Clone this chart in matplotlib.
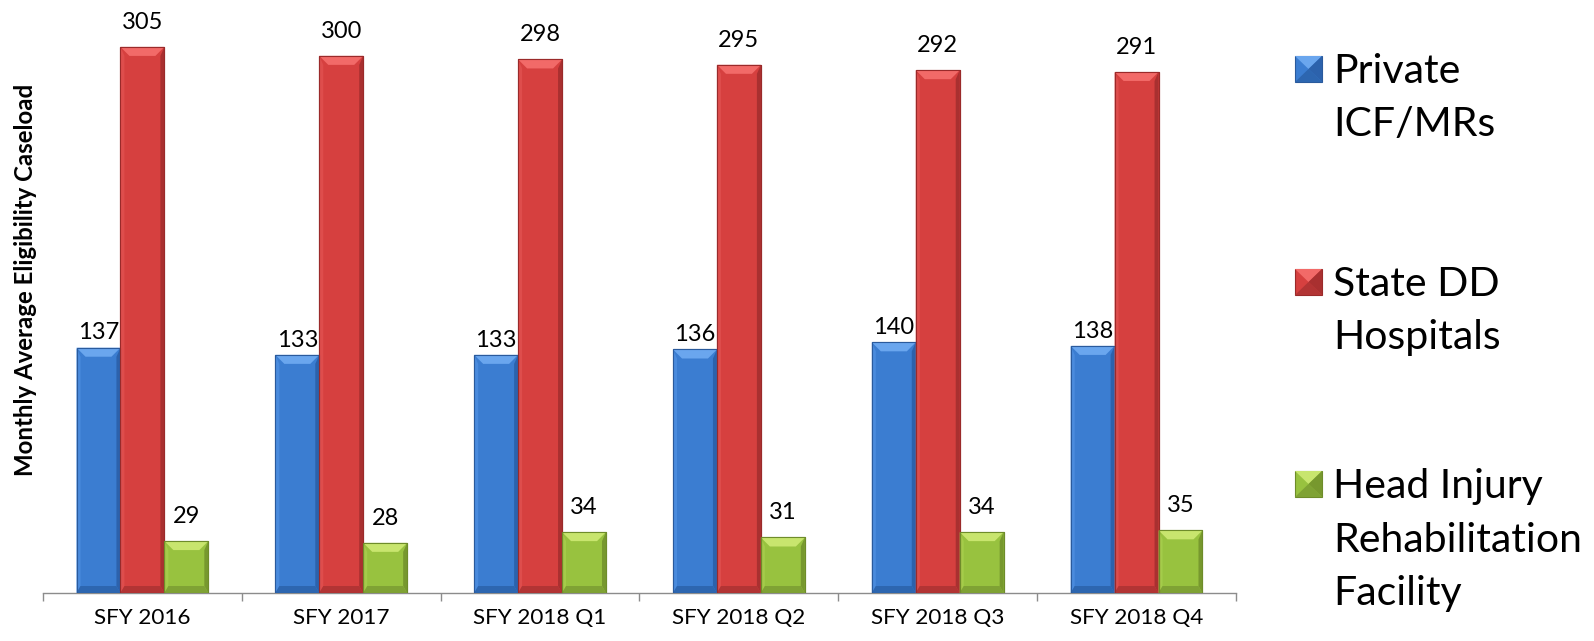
import matplotlib
matplotlib.use("Agg")
import matplotlib.pyplot as plt
from matplotlib.patches import Polygon, Rectangle
import numpy as np

categories = ["SFY 2016", "SFY 2017", "SFY 2018 Q1", "SFY 2018 Q2", "SFY 2018 Q3", "SFY 2018 Q4"]
private_icf = [137, 133, 133, 136, 140, 138]
state_dd = [305, 300, 298, 295, 292, 291]
head_injury = [29, 28, 34, 31, 34, 35]
series_names = ["Private\nICF/MRs", "State DD\nHospitals", "Head Injury\nRehabilitation\nFacility"]
y_label = "Monthly Average Eligibility Caseload"

# colour schemes: (body, top bevel, left bevel, right bevel, bottom bevel, edge)
styles = [
    ("#3B7DD1", "#6AA6EE", "#4A8BDD", "#2C62AC", "#2D66B0", "#2A5A9C"),
    ("#D6403F", "#F26A68", "#DE4D4C", "#A93030", "#B23434", "#9A2A2A"),
    ("#98C23F", "#C8E56E", "#A4CC4A", "#77982E", "#7FA234", "#6E8C2A"),
]
label_offsets = [6, 13, 13]  # points above the bar top (baseline)

plt.rcParams['font.family'] = ['Lato', 'DejaVu Sans']

W, H = 1594, 641
fig = plt.figure(figsize=(W / 100, H / 100), dpi=100)
ax_l, ax_r, ax_b = 43, 1236, 48
ax = fig.add_axes([ax_l / W, ax_b / H, (ax_r - ax_l) / W, (H - ax_b) / H])

n = len(categories)
x = np.arange(n)
bw = 0.221
ax.set_xlim(-0.5, n - 0.5)
ax.set_ylim(0, 331.2)

px_x = (ax_r - ax_l) / n          # pixels per x data unit
px_y = (H - ax_b) / 331.2         # pixels per y data unit

all_series = [private_icf, state_dd, head_injury]
offsets = [-bw, 0, bw]
for vals, off, st, loff in zip(all_series, offsets, styles, label_offsets):
    body, topc, leftc, rightc, botc, edge = st
    bars = ax.bar(x + off, vals, width=bw, color=body, edgecolor=edge, linewidth=0.8, zorder=2)
    for rect in bars:
        x0 = rect.get_x(); w = rect.get_width(); h = rect.get_height()
        x1 = x0 + w
        dxt = 9 / px_x; dyt = 9 / px_y     # top bevel
        dxs = 4 / px_x                     # side bevel
        dyb = 7 / px_y                     # bottom bevel
        ax.add_patch(Polygon([(x1, 0), (x1, h), (x1 - dxs, h - dyt), (x1 - dxs, dyb)],
                             closed=True, facecolor=rightc, edgecolor='none', zorder=3))
        ax.add_patch(Polygon([(x0, 0), (x0, h), (x0 + dxs, h - dyt), (x0 + dxs, dyb)],
                             closed=True, facecolor=leftc, edgecolor='none', zorder=3))
        ax.add_patch(Polygon([(x0, 0), (x1, 0), (x1 - dxs, dyb), (x0 + dxs, dyb)],
                             closed=True, facecolor=botc, edgecolor='none', zorder=3))
        ax.add_patch(Polygon([(x0, h), (x1, h), (x1 - dxt, h - dyt), (x0 + dxt, h - dyt)],
                             closed=True, facecolor=topc, edgecolor='none', zorder=3))
        ax.add_patch(Rectangle((x0, 0), w, h, facecolor='none', edgecolor=edge, linewidth=0.8, zorder=4))
        ax.annotate(f"{int(h)}", (x0 + w / 2, h), xytext=(0, loff), textcoords='offset points',
                    ha='center', va='baseline', fontsize=17, color='#000000', zorder=5)

for s in ['top', 'right', 'left']:
    ax.spines[s].set_visible(False)
ax.spines['bottom'].set_color('#8C8C8C')
ax.spines['bottom'].set_linewidth(1.0)
ax.set_yticks([])
ax.set_xticks(x)
ax.set_xticklabels(categories, fontsize=16.2)
ax.tick_params(axis='x', which='major', length=0, pad=11)
ax.set_xticks(np.arange(n + 1) - 0.5, minor=True)
ax.tick_params(axis='x', which='minor', length=6, width=1.0, color='#8C8C8C')

fig.text(26 / W, 1 - 280 / H, y_label, rotation=90, ha='center', va='center',
         fontsize=17.3, fontweight='bold')

# legend (manual, first line aligned with marker)
leg_y = [69, 282, 484]
for name, st, yc in zip(series_names, styles, leg_y):
    body, topc, leftc, rightc, botc, edge = st
    mx0, mx1 = 1295, 1322
    my0, my1 = yc - 13, yc + 13
    def fx(v): return v / W
    def fy(v): return 1 - v / H
    cx, cy = (mx0 + mx1) / 2, (my0 + my1) / 2
    fig.patches.append(Rectangle((fx(mx0), fy(my1)), (mx1 - mx0) / W, (my1 - my0) / H,
                                 transform=fig.transFigure, facecolor=body, edgecolor=edge, linewidth=0.8))
    fig.patches.append(Polygon([(fx(mx0), fy(my0)), (fx(mx1), fy(my0)), (fx(cx), fy(cy))],
                               closed=True, transform=fig.transFigure, facecolor=topc, edgecolor='none'))
    fig.patches.append(Polygon([(fx(mx1), fy(my0)), (fx(mx1), fy(my1)), (fx(cx), fy(cy))],
                               closed=True, transform=fig.transFigure, facecolor=rightc, edgecolor='none'))
    fig.patches.append(Polygon([(fx(mx0), fy(my1)), (fx(mx1), fy(my1)), (fx(cx), fy(cy))],
                               closed=True, transform=fig.transFigure, facecolor=botc, edgecolor='none'))
    fig.text(1333 / W, 1 - (yc - 16) / H, name, ha='left', va='top', fontsize=29.5,
             linespacing=1.55, color='#000000')

fig.savefig("out.png", dpi=100)
